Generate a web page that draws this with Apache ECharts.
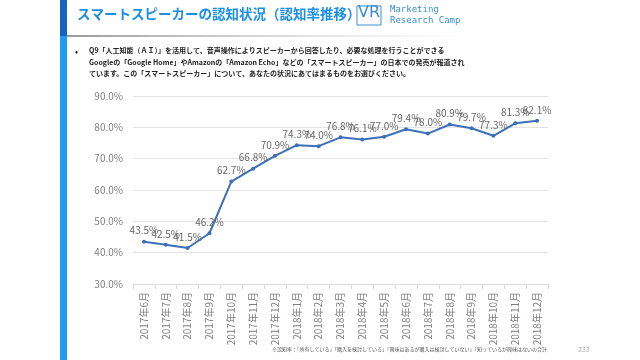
<!DOCTYPE html>
<html><head><meta charset="utf-8">
<script src="https://cdn.jsdelivr.net/npm/echarts@6/dist/echarts.min.js"></script>
<style>html,body{margin:0;padding:0;background:#fff}#c{width:640px;height:360px}</style>
</head><body><div id="c"></div>
<script>
const categories = ["2017年6月","2017年7月","2017年8月","2017年9月","2017年10月","2017年11月","2017年12月","2018年1月","2018年2月","2018年3月","2018年4月","2018年5月","2018年6月","2018年7月","2018年8月","2018年9月","2018年10月","2018年11月","2018年12月"];
const awareness = [43.5,42.5,41.5,46.2,62.7,66.8,70.9,74.3,74.0,76.8,76.1,77.0,79.4,78.0,80.9,79.7,77.3,81.3,82.1];
const titleText = "スマートスピーカーの認知状況（認知率推移）";
const questionLines = [
  "Q9「人工知能（ＡＩ）」を活用して、音声操作によりスピーカーから回答したり、必要な処理を行うことができる",
  "Googleの「Google Home」やAmazonの「Amazon Echo」などの「スマートスピーカー」の日本での発売が報道され",
  "ています。この「スマートスピーカー」について、あなたの状況にあてはまるものをお選びください。"
];
const footnote = "※認知率：「所有している」「購入を検討している」「興味はあるが購入は検討していない」「知っているが興味はないの合計";
const pageNo = "233";

const chart = echarts.init(document.getElementById('c'));
const font = "'Noto Sans CJK JP','Noto Sans',sans-serif";
chart.setOption({
  animation:false,
  textStyle:{fontFamily:font},
  grid:{left:133,right:92,top:96,bottom:76},
  xAxis:{type:'category',data:categories,boundaryGap:true,
    axisLine:{lineStyle:{color:'#d9d9d9'}},
    axisTick:{show:true,lineStyle:{color:'#d9d9d9'}},
    axisLabel:{rotate:90,color:'#7f7f7f',fontSize:10,interval:0,margin:8}},
  yAxis:{type:'value',min:30,max:90,interval:10,
    axisLine:{show:false},axisTick:{show:false},
    splitLine:{lineStyle:{color:'#e3e3e3'}},
    axisLabel:{color:'#7f7f7f',fontSize:10,formatter:v=>v.toFixed(1)+'%',margin:10}},
  series:[{type:'line',data:awareness,symbol:'circle',symbolSize:4,
    lineStyle:{color:'#3c70b8',width:2},itemStyle:{color:'#3c70b8'},
    label:{show:true,position:'top',color:'#666',fontSize:10,formatter:p=>p.value.toFixed(1)+'%',distance:4}}],
  graphic:[
    {type:'rect',shape:{x:60,y:0,width:7,height:36},style:{fill:'#1565c0'}},
    {type:'rect',shape:{x:60,y:36,width:7,height:324},style:{fill:'#1e9cf0'}},
    {type:'rect',shape:{x:67,y:35,width:400,height:2},style:{fill:new echarts.graphic.LinearGradient(0,0,1,0,[{offset:0,color:'#9a9a9a'},{offset:1,color:'rgba(200,200,200,0)'}])}},
    {type:'text',left:77,top:7,style:{text:titleText,fill:'#1a8fe6',font:"bold 13.5px "+font}},
    {type:'rect',shape:{x:357,y:6,width:24,height:19},style:{fill:'none',stroke:'#3a8fd0',lineWidth:1}},
    {type:'text',left:358,top:5,style:{text:'VR',fill:'#3a8fd0',font:"16px 'DejaVu Sans'"}},
    {type:'text',left:390,top:5,style:{text:'Marketing',fill:'#3a8fd0',font:"9px 'DejaVu Sans Mono'"}},
    {type:'text',left:390,top:16,style:{text:'Research Camp',fill:'#3a8fd0',font:"9px 'DejaVu Sans Mono'"}},
    {type:'text',left:75,top:47,style:{text:'•',fill:'#222',font:"9px "+font}},
    {type:'text',left:89,top:47,style:{text:questionLines[0],fill:'#222',font:"bold 7px "+font}},
    {type:'text',left:89,top:59,style:{text:questionLines[1],fill:'#222',font:"bold 7px "+font}},
    {type:'text',left:89,top:70,style:{text:questionLines[2],fill:'#222',font:"bold 7px "+font}},
    {type:'text',left:272,top:347,style:{text:footnote,fill:'#555',font:"5px "+font}},
    {type:'text',left:578,top:346,style:{text:pageNo,fill:'#aaa',font:"7px "+font}}
  ]
});
</script></body></html>
